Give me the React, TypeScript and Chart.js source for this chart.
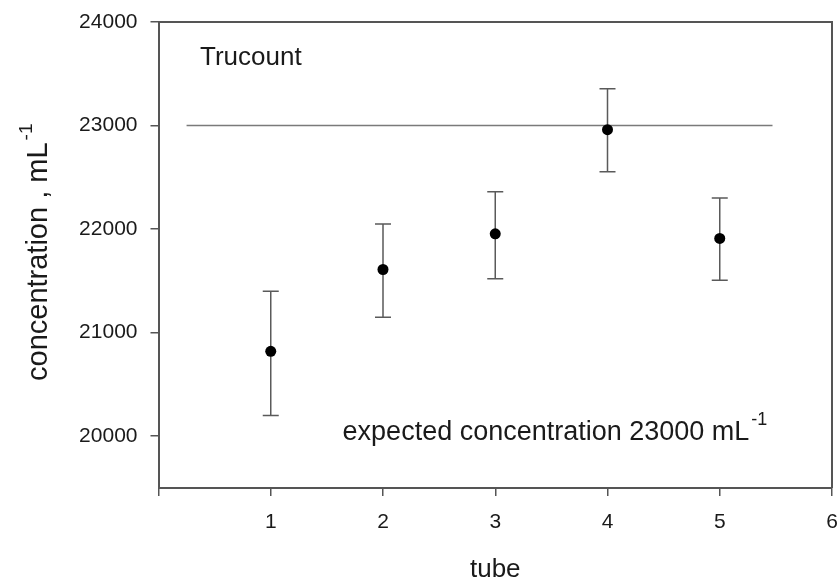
import React, { useEffect, useRef } from "react";
import { Chart, registerables } from "chart.js";
Chart.register(...registerables);

const tubes = [1, 2, 3, 4, 5];
const concentration = [20820, 21610, 21955, 22960, 21910];
const errLow = [20200, 21150, 21520, 22555, 21505];
const errHigh = [21400, 22050, 22360, 23355, 22300];
const expectedX = [0.25, 5.47];
const expectedY = [23000, 23000];
const xTicks = [0, 1, 2, 3, 4, 5, 6];
const yTicks = [20000, 21000, 22000, 23000, 24000];

const FONT = "'Liberation Sans', Arial, sans-serif";
const AXIS = "#555";
const TEXT = "#1a1a1a";

const decor = {
  id: "decor",
  beforeDatasetsDraw(chart: any) {
    const { ctx } = chart;
    const x = chart.scales.x;
    const y = chart.scales.y;
    ctx.save();
    ctx.strokeStyle = "#5a5a5a";
    ctx.lineWidth = 1.5;
    tubes.forEach((t, i) => {
      const px = x.getPixelForValue(t);
      const y1 = y.getPixelForValue(errLow[i]);
      const y2 = y.getPixelForValue(errHigh[i]);
      ctx.beginPath();
      ctx.moveTo(px, y1);
      ctx.lineTo(px, y2);
      ctx.moveTo(px - 8, y1);
      ctx.lineTo(px + 8, y1);
      ctx.moveTo(px - 8, y2);
      ctx.lineTo(px + 8, y2);
      ctx.stroke();
    });
    ctx.restore();
  },
  afterDraw(chart: any) {
    const { ctx, chartArea } = chart;
    const x = chart.scales.x;
    const y = chart.scales.y;
    ctx.save();
    // frame (top and right)
    ctx.strokeStyle = AXIS;
    ctx.lineWidth = 2;
    ctx.beginPath();
    ctx.moveTo(chartArea.left, chartArea.top);
    ctx.lineTo(chartArea.right, chartArea.top);
    ctx.lineTo(chartArea.right, chartArea.bottom);
    ctx.stroke();

    ctx.fillStyle = TEXT;
    ctx.textBaseline = "alphabetic";
    ctx.textAlign = "left";

    // Trucount label
    ctx.font = "26px " + FONT;
    ctx.fillText("Trucount", x.getPixelForValue(0.37), y.getPixelForValue(23585));

    // expected concentration label
    const ex = x.getPixelForValue(1.64);
    const ey = y.getPixelForValue(19965);
    const main = "expected concentration 23000 mL";
    ctx.font = "27px " + FONT;
    ctx.fillText(main, ex, ey);
    const mw = ctx.measureText(main).width;
    ctx.font = "18px " + FONT;
    ctx.fillText("-1", ex + mw + 2, ey - 15);

    // x title
    ctx.font = "26px " + FONT;
    ctx.textAlign = "center";
    ctx.fillText("tube", (chartArea.left + chartArea.right) / 2, 577);

    // y title
    ctx.save();
    ctx.translate(47, 381);
    ctx.rotate(-Math.PI / 2);
    ctx.textAlign = "left";
    ctx.font = "29px " + FONT;
    const yt = "concentration , mL";
    const w1 = ctx.measureText(yt).width;
    ctx.fillText(yt, 0, 0);
    ctx.font = "19px " + FONT;
    ctx.fillText("-1", w1 + 2, -15);
    ctx.restore();

    ctx.restore();
  },
};

export default function App() {
  const ref = useRef<HTMLCanvasElement | null>(null);
  useEffect(() => {
    if (!ref.current) return;
    const chart = new Chart(ref.current, {
      type: "scatter",
      data: {
        datasets: [
          {
            label: "concentration",
            data: tubes.map((t, i) => ({ x: t, y: concentration[i] })),
            pointRadius: 5.5,
            pointBackgroundColor: "#000",
            pointBorderColor: "#000",
            pointBorderWidth: 0,
          },
          {
            label: "expected",
            data: expectedX.map((v, i) => ({ x: v, y: expectedY[i] })),
            showLine: true,
            borderColor: "#7a7a7a",
            borderWidth: 1.5,
            pointRadius: 0,
          },
        ],
      },
      options: {
        animation: false,
        responsive: false,
        devicePixelRatio: 1,
        layout: { padding: { top: 22, right: 7, left: 0, bottom: 0 } },
        plugins: { legend: { display: false }, tooltip: { enabled: false } },
        scales: {
          x: {
            type: "linear",
            min: 0,
            max: 6,
            afterBuildTicks: (s: any) => {
              s.ticks = xTicks.map((v) => ({ value: v }));
            },
            afterFit: (s: any) => {
              s.height = 90;
              s.paddingLeft = 0;
              s.paddingRight = 0;
            },
            ticks: {
              callback: (v: any) => (v === 0 ? "" : String(v)),
              font: { size: 21, family: FONT },
              color: TEXT,
              padding: 14,
              maxRotation: 0,
            },
            grid: {
              display: true,
              drawOnChartArea: false,
              drawTicks: true,
              tickLength: 8,
              color: AXIS,
              lineWidth: 1.5,
            },
            border: { display: true, color: AXIS, width: 2 },
          },
          y: {
            type: "linear",
            min: 19500,
            max: 24000,
            afterBuildTicks: (s: any) => {
              s.ticks = yTicks.map((v) => ({ value: v }));
            },
            afterFit: (s: any) => {
              s.width = 158.5;
              s.paddingTop = 0;
              s.paddingBottom = 0;
            },
            ticks: {
              callback: (v: any) => String(v),
              font: { size: 21, family: FONT },
              color: TEXT,
              padding: 13,
            },
            grid: {
              display: true,
              drawOnChartArea: false,
              drawTicks: true,
              tickLength: 8,
              color: AXIS,
              lineWidth: 1.5,
            },
            border: { display: true, color: AXIS, width: 2 },
          },
        },
      },
      plugins: [decor],
    });
    return () => chart.destroy();
  }, []);
  return (
    <div style={{ position: "absolute", left: 0, top: 0, width: 839, height: 578 }}>
      <canvas ref={ref} width={839} height={578} />
    </div>
  );
}
